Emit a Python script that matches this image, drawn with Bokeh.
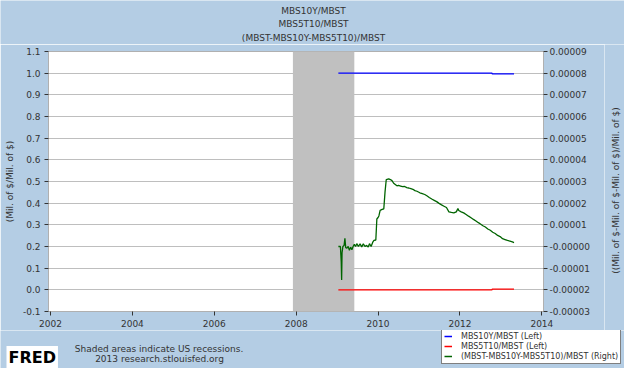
import math
from bokeh.plotting import figure
from bokeh.layouts import column, row
from bokeh.models import (Range1d, LinearAxis, FixedTicker, CustomJSTickFormatter,
                          Legend, LegendItem, Label, BoxAnnotation)
from bokeh.embed import file_html
from bokeh.resources import INLINE

# ---------------- data ----------------
title_lines = ["MBS10Y/MBST", "MBS5T10/MBST", "(MBST-MBS10Y-MBS5T10)/MBST"]
left_title = "(Mil. of $/Mil. of $)"
right_title = "((Mil. of $-Mil. of $-Mil. of $)/Mil. of $)"
series_names = ["MBS10Y/MBST (Left)", "MBS5T10/MBST (Left)",
                "(MBST-MBS10Y-MBS5T10)/MBST (Right)"]
series_colors = ["#0000FF", "#FF0000", "#006400"]
footer_lines = ["Shaded areas indicate US recessions.", "2013 research.stlouisfed.org"]
logo_text = "FRED"

x_ticks = [2002, 2004, 2006, 2008, 2010, 2012, 2014]
x_tick_labels = ["2002", "2004", "2006", "2008", "2010", "2012", "2014"]
left_ticks = [-0.1, 0.0, 0.1, 0.2, 0.3, 0.4, 0.5, 0.6, 0.7, 0.8, 0.9, 1.0, 1.1]
left_tick_labels = ["-0.1", "0.0", "0.1", "0.2", "0.3", "0.4", "0.5", "0.6",
                    "0.7", "0.8", "0.9", "1.0", "1.1"]
right_ticks = [-0.00003, -0.00002, -0.00001, 0.0, 0.00001, 0.00002, 0.00003,
               0.00004, 0.00005, 0.00006, 0.00007, 0.00008, 0.00009]
right_tick_labels = ["-0.00003", "-0.00002", "-0.00001", "-0.00000", "0.00001",
                     "0.00002", "0.00003", "0.00004", "0.00005", "0.00006",
                     "0.00007", "0.00008", "0.00009"]

recession_start = 2007.92
recession_end = 2009.42

blue_x = [2009.03, 2012.78, 2012.79, 2013.32]
blue_y = [1.0, 1.0, 0.997, 0.997]
red_x = [2009.03, 2012.78, 2012.79, 2013.32]
red_y = [0.0, 0.0, 0.003, 0.003]

green_x = [2009.03, 2009.08, 2009.10, 2009.11, 2009.12, 2009.14, 2009.17, 2009.19,
           2009.21, 2009.24, 2009.27, 2009.30, 2009.33, 2009.36, 2009.39, 2009.42,
           2009.45, 2009.48, 2009.52, 2009.56, 2009.60, 2009.64, 2009.68, 2009.72,
           2009.76, 2009.79, 2009.83, 2009.87, 2009.90, 2009.945, 2009.97, 2010.00,
           2010.02, 2010.05, 2010.10, 2010.14, 2010.17, 2010.20, 2010.26, 2010.30,
           2010.34, 2010.38, 2010.42, 2010.46, 2010.50, 2010.55, 2010.60, 2010.65,
           2010.70, 2010.75, 2010.80, 2010.85, 2010.90, 2010.95, 2011.02, 2011.08,
           2011.14, 2011.20, 2011.25, 2011.31, 2011.37, 2011.43, 2011.49, 2011.55,
           2011.61, 2011.67, 2011.73, 2011.79, 2011.85, 2011.91, 2011.95, 2011.97,
           2012.03, 2012.09, 2012.15, 2012.21, 2012.27, 2012.33, 2012.39, 2012.45,
           2012.50, 2012.56, 2012.62, 2012.68, 2012.74, 2012.80, 2012.86, 2012.92,
           2012.98, 2013.04, 2013.10, 2013.16, 2013.22, 2013.28, 2013.32]
green_y = [0.0, 0.0, -0.0000070, -0.0000155, -0.0000030, 0.0, 0.0000005, 0.0000038,
           -0.0000005, -0.0000008, 0.0, -0.0000017, -0.0000003, -0.0000015, 0.0, 0.0000010,
           0.0, 0.0000013, 0.0, 0.0000012, -0.0000002, 0.0000012, 0.0, 0.0000005,
           -0.0000002, 0.0000013, 0.0, 0.0000020, 0.0000028, 0.0000030, 0.0000127, 0.0000134,
           0.0000141, 0.0000167, 0.0000171, 0.0000174, 0.0000252, 0.0000309, 0.0000312, 0.0000309,
           0.0000304, 0.0000292, 0.0000286, 0.0000280, 0.0000282, 0.0000279, 0.0000276, 0.0000277,
           0.0000272, 0.0000270, 0.0000267, 0.0000264, 0.0000258, 0.0000255, 0.0000248, 0.0000244,
           0.0000240, 0.0000233, 0.0000226, 0.0000219, 0.0000213, 0.0000207, 0.0000199, 0.0000192,
           0.0000186, 0.0000180, 0.0000160, 0.0000157, 0.0000155, 0.0000160, 0.0000175, 0.0000166,
           0.0000160, 0.0000155, 0.0000148, 0.0000140, 0.0000133, 0.0000125, 0.0000118, 0.0000110,
           0.0000104, 0.0000096, 0.0000090, 0.0000081, 0.0000075, 0.0000066, 0.0000060, 0.0000051,
           0.0000046, 0.0000036, 0.0000032, 0.0000028, 0.0000025, 0.0000021, 0.0000018]

# ---------------- style ----------------
BG = "#B4CDE4"
FONT = "DejaVu Sans"
TXT = "#333333"
W = 624
W_SIDE = 20
H_TOP, H_MAIN, H_FOOT = 44, 286, 38


def no_align(f):
    try:
        f.frame_align = False
    except Exception:
        pass


def blank(width, height):
    f = figure(width=width, height=height, output_backend="svg", toolbar_location=None,
               x_range=Range1d(0, width), y_range=Range1d(height, 0),
               x_axis_type=None, y_axis_type=None, min_border=0,
               background_fill_color=BG, border_fill_color=BG, outline_line_color=None)
    f.grid.visible = False
    no_align(f)
    return f

# ---- top strip: the three title lines ----
p0 = blank(W, H_TOP)
for i, t in enumerate(title_lines):
    p0.add_layout(Label(x=313, y=10.5 + 13.3 * i, text=t, text_font=FONT,
                        text_font_size="9px", text_color=TXT,
                        text_align="center", text_baseline="middle"))

# ---- main chart ----
p = figure(width=W - W_SIDE, height=H_MAIN, output_backend="svg", toolbar_location=None,
           x_range=Range1d(2001.951, 2014.04), y_range=Range1d(-0.1, 1.1),
           min_border_left=48, min_border_top=7, min_border_right=81 - W_SIDE,
           min_border_bottom=19, background_fill_color="white",
           border_fill_color=BG, outline_line_color="#B0B0B0")
no_align(p)
p.extra_y_ranges = {"right": Range1d(-0.00003, 0.00009)}

p.xgrid.visible = False
p.ygrid.ticker = FixedTicker(ticks=left_ticks)
p.ygrid.grid_line_color = "#BEBEBE"

LOOKUP = """
let b = 0;
for (let i = 0; i < tv.length; i++) { if (Math.abs(tv[i] - tick) < Math.abs(tv[b] - tick)) b = i; }
return labs[b];
"""


def style_axis(ax, tick_values, tick_labels, standoff):
    ax.ticker = FixedTicker(ticks=tick_values)
    ax.formatter = CustomJSTickFormatter(args=dict(tv=tick_values, labs=tick_labels),
                                         code=LOOKUP)
    ax.axis_line_color = None
    ax.major_tick_line_color = "#333333"
    ax.major_tick_out = 4
    ax.major_tick_in = 0
    ax.minor_tick_line_color = None
    ax.major_label_text_font = FONT
    ax.major_label_text_font_size = "9px"
    ax.major_label_text_color = TXT
    ax.major_label_standoff = standoff
    ax.axis_label_text_font = FONT
    ax.axis_label_text_font_size = "9px"
    ax.axis_label_text_font_style = "normal"
    ax.axis_label_text_color = TXT


style_axis(p.xaxis[0], x_ticks, x_tick_labels, 4)
ya = p.yaxis[0]
style_axis(ya, left_ticks, left_tick_labels, 4)
ya.axis_label = left_title
ya.axis_label_standoff = 5

ra = LinearAxis(y_range_name="right")
style_axis(ra, right_ticks, right_tick_labels, 2)
p.add_layout(ra, "right")

p.add_layout(BoxAnnotation(left=recession_start, right=recession_end,
                           fill_color="#C0C0C0", fill_alpha=1.0, line_color=None,
                           level="underlay"))

p.line(blue_x, blue_y, line_color=series_colors[0], line_width=1.3)
p.line(red_x, red_y, line_color=series_colors[1], line_width=1.3)
p.line(green_x, green_y, line_color=series_colors[2], line_width=1.3,
       y_range_name="right")

# ---- right strip: right-axis title, reading upwards ----
pr = blank(W_SIDE, H_MAIN)
pr.add_layout(Label(x=11, y=146, text=right_title, angle=math.pi / 2,
                    text_font=FONT, text_font_size="9px", text_color=TXT,
                    text_align="center", text_baseline="middle"))

# ---- footer strip: source notes, logo, legend ----
p2 = blank(W, H_FOOT)
p2.add_layout(Label(x=158.5, y=18, text=footer_lines[0], text_font=FONT,
                    text_font_size="9px", text_color=TXT,
                    text_align="center", text_baseline="middle"))
p2.add_layout(Label(x=159, y=28.5, text=footer_lines[1], text_font=FONT,
                    text_font_size="9px", text_color=TXT,
                    text_align="center", text_baseline="middle"))
p2.add_layout(Label(x=6, y=27, text=logo_text, text_font=FONT,
                    text_font_size="16px", text_font_style="bold",
                    text_color="black", text_align="left", text_baseline="middle",
                    background_fill_color="white", padding=2))

# legend keys: the same series, drawn in this strip's pixel space where they fall
# outside the visible window, so only their legend swatches show
key_data = [(blue_x, blue_y), (red_x, red_y), (green_x, green_y)]
key_renderers = [p2.line(kx, ky, line_color=c, line_width=1.5)
                 for (kx, ky), c in zip(key_data, series_colors)]
legend = Legend(items=[LegendItem(label=n, renderers=[r])
                       for n, r in zip(series_names, key_renderers)],
                location=(441, 4), orientation="vertical",
                label_text_font=FONT, label_text_font_size="8px",
                label_text_color=TXT, glyph_width=8, glyph_height=10,
                label_height=10, label_standoff=9, spacing=0, padding=2,
                margin=0, border_line_color="#000000", border_line_width=1,
                background_fill_color="white", background_fill_alpha=1.0)
p2.add_layout(legend, "center")

layout = column(column(p0), row(p, pr, spacing=0), column(p2), spacing=0)
open("out.html", "w").write(file_html(layout, INLINE))
